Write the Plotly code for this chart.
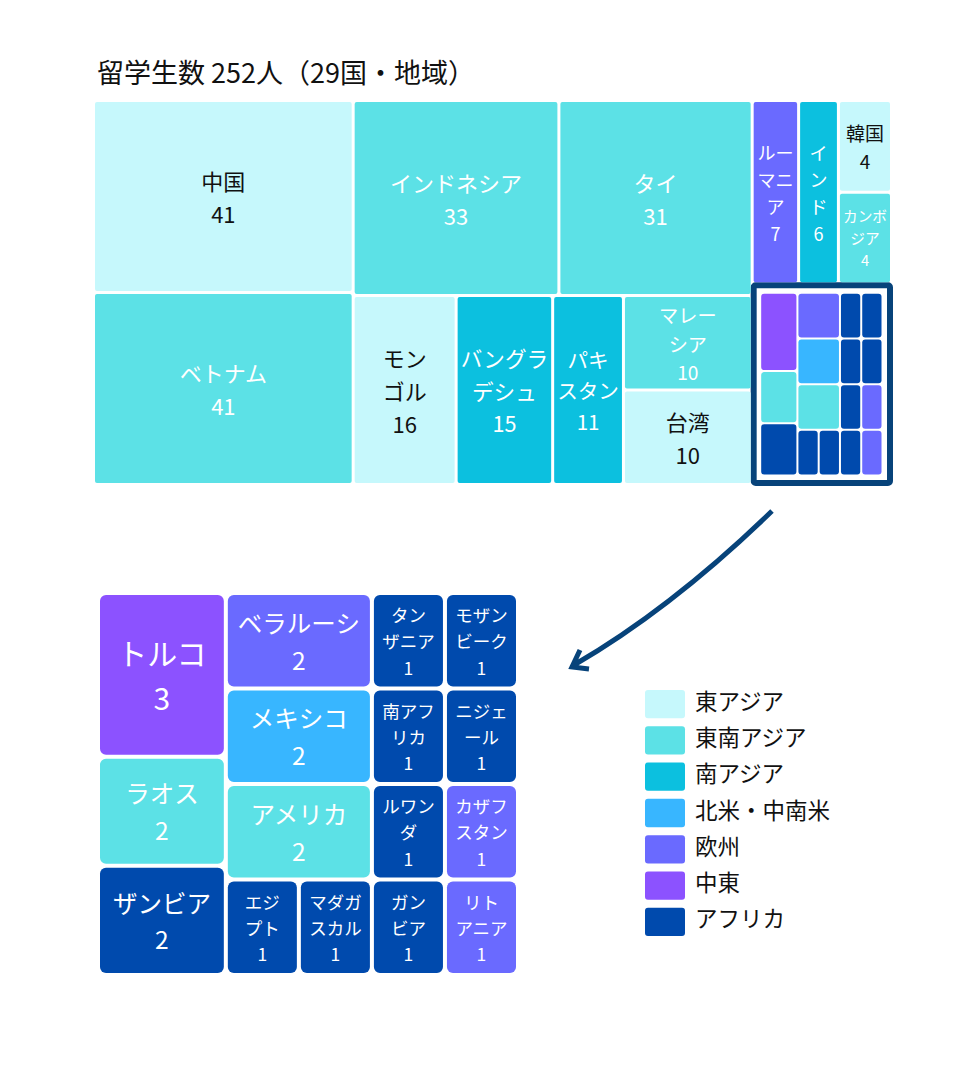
import plotly.graph_objects as go

FIG_W, FIG_H = 977, 1080
FONT = "Noto Sans CJK JP, Noto Sans, sans-serif"

# ---------------- data ----------------
region_names = ["東アジア", "東南アジア", "南アジア", "北米・中南米", "欧州", "中東", "アフリカ"]
region_colors = ["#c6f8fc", "#5ce1e6", "#0cc0df", "#38b6ff", "#6a6aff", "#8c52ff", "#004aad"]
region_text_colors = ["#111111", "#ffffff", "#ffffff", "#ffffff", "#ffffff", "#ffffff", "#ffffff"]

top_countries = ["中国", "ベトナム", "インドネシア", "タイ", "モンゴル", "バングラデシュ", "パキスタン",
                 "マレーシア", "台湾", "ルーマニア", "インド", "韓国", "カンボジア"]
top_values = [41, 41, 33, 31, 16, 15, 11, 10, 10, 7, 6, 4, 4]
top_regions = ["東アジア", "東南アジア", "東南アジア", "東南アジア", "東アジア", "南アジア", "南アジア",
               "東南アジア", "東アジア", "欧州", "南アジア", "東アジア", "東南アジア"]
top_display = ["中国", "ベトナム", "インドネシア", "タイ", "モン<br>ゴル", "バングラ<br>デシュ", "パキ<br>スタン",
               "マレー<br>シア", "台湾", "ルー<br>マニ<br>ア", "イ<br>ン<br>ド", "韓国", "カンボ<br>ジア"]

small_countries = ["トルコ", "ラオス", "ザンビア", "ベラルーシ", "メキシコ", "アメリカ", "エジプト", "マダガスカル",
                   "タンザニア", "南アフリカ", "ルワンダ", "ガンビア", "モザンビーク", "ニジェール", "カザフスタン", "リトアニア"]
small_values = [3, 2, 2, 2, 2, 2, 1, 1, 1, 1, 1, 1, 1, 1, 1, 1]
# colour group as drawn in the original picture
small_regions = ["中東", "東南アジア", "アフリカ", "欧州", "北米・中南米", "東南アジア", "アフリカ", "アフリカ",
                 "アフリカ", "アフリカ", "アフリカ", "アフリカ", "アフリカ", "アフリカ", "欧州", "欧州"]
small_display = ["トルコ", "ラオス", "ザンビア", "ベラルーシ", "メキシコ", "アメリカ", "エジ<br>プト", "マダガ<br>スカル",
                 "タン<br>ザニア", "南アフ<br>リカ", "ルワン<br>ダ", "ガン<br>ビア", "モザン<br>ビーク", "ニジェ<br>ール",
                 "カザフ<br>スタン", "リト<br>アニア"]

OTHER = "その他"

# nesting used for slice-dice tiling (lists are invisible groups)
top_tree = [
    ["中国", "ベトナム"],
    [["インドネシア", "タイ"], ["モンゴル", "バングラデシュ", "パキスタン", ["マレーシア", "台湾"]]],
    [["ルーマニア", "インド", ["韓国", "カンボジア"]], OTHER],
]
small_tree = [
    ["トルコ", "ラオス", "ザンビア"],
    ["ベラルーシ", "メキシコ", "アメリカ", ["エジプト", "マダガスカル"]],
    ["タンザニア", "南アフリカ", "ルワンダ", "ガンビア"],
    ["モザンビーク", "ニジェール", "カザフスタン", "リトアニア"],
]

total = sum(top_values) + sum(small_values)
n_countries = len(top_countries) + len(small_countries)

reg_col = dict(zip(region_names, region_colors))
reg_txt = dict(zip(region_names, region_text_colors))

NAVY = "#07437a"
TOP_SIZE = 22
TOP_SIZE_OVERRIDE = {"ルーマニア": 18, "インド": 18, "韓国": 19, "カンボジア": 15}
SMALL_SIZE = {3: 30, 2: 24.5, 1: 17.5}
LINE_GAP = 1.5  # line pitch in em


def px_x(v):
    return v / FIG_W


def px_y(v):
    return 1 - v / FIG_H


def cell_text(disp, value, fs, gap):
    lines = disp.split("<br>") + [str(value)]
    base = fs * gap / 2.6
    txt = "<br><br>".join(f"<span style='font-size:{fs}px'>{ln}</span>" for ln in lines)
    return txt, base


def build(tree, info, show_text, size_of):
    out = dict(ids=[], parents=[], values=[], text=[], colors=[], fcol=[], fsize=[], lw=[], lc=[])

    def add(i, p, v, t, c, fc, fs, lw, lc):
        out["ids"].append(i); out["parents"].append(p); out["values"].append(v)
        out["text"].append(t); out["colors"].append(c); out["fcol"].append(fc)
        out["fsize"].append(fs); out["lw"].append(lw); out["lc"].append(lc)

    def walk(node, parent, path):
        if isinstance(node, list):
            add(path, parent, 0, "", "rgba(0,0,0,0)", "#fff", 10, 0, "rgba(0,0,0,0)")
            for k, ch in enumerate(node):
                walk(ch, path, f"{path}/{k}")
        else:
            value, region, disp = info[node]
            if region is None:
                add(node, parent, value, "", "#ffffff", "#fff", 10, 6, NAVY)
            elif show_text:
                fs = size_of(node, value)
                t, base = cell_text(disp, value, fs, LINE_GAP)
                add(node, parent, value, t, reg_col[region], reg_txt[region], base, 0, "rgba(0,0,0,0)")
            else:
                add(node, parent, value, "", reg_col[region], "#fff", 10, 0, "rgba(0,0,0,0)")

    walk(tree, "", "root")
    return out


top_info = {c: (v, r, d) for c, v, r, d in zip(top_countries, top_values, top_regions, top_display)}
top_info[OTHER] = (sum(small_values), None, "")
small_info = {c: (v, r, d) for c, v, r, d in zip(small_countries, small_values, small_regions, small_display)}


def treemap(nodes, domain, pad, radius):
    return go.Treemap(
        ids=nodes["ids"], labels=nodes["ids"], parents=nodes["parents"], values=nodes["values"],
        branchvalues="remainder", sort=False,
        tiling=dict(packing="slice-dice", pad=pad),
        marker=dict(colors=nodes["colors"], line=dict(width=nodes["lw"], color=nodes["lc"]),
                    pad=dict(t=0, l=0, r=0, b=0), cornerradius=radius),
        text=nodes["text"], texttemplate="%{text}", textposition="middle center",
        textfont=dict(family=FONT, size=nodes["fsize"], color=nodes["fcol"]),
        pathbar=dict(visible=False), hoverinfo="skip", domain=domain,
    )


fig = go.Figure()

# --- top treemap ---
TX0, TX1, TY0, TY1 = 95, 890, 102, 483
top_nodes = build(top_tree, top_info, True, lambda n, v: TOP_SIZE_OVERRIDE.get(n, TOP_SIZE))
fig.add_trace(treemap(top_nodes, dict(x=[px_x(TX0), px_x(TX1)], y=[px_y(TY1), px_y(TY0)]), 3, 2))


# --- inset: position of "その他" in the slice-dice layout ---
def tree_sum(n):
    if isinstance(n, list):
        return sum(tree_sum(c) for c in n)
    return top_info[n][0]


col_sums = [tree_sum(c) for c in top_tree]
rowD = tree_sum(top_tree[2][0])
other_v = top_info[OTHER][0]
ox0 = TX0 + (col_sums[0] + col_sums[1]) / total * (TX1 - TX0)
ox1 = TX1
oy0 = TY0 + rowD / (rowD + other_v) * (TY1 - TY0)
oy1 = TY1
ins = 8.5
small_nodes_inset = build(small_tree, small_info, False, None)
fig.add_trace(treemap(small_nodes_inset,
                      dict(x=[px_x(ox0 + ins + 1.5), px_x(ox1 - ins)], y=[px_y(oy1 - ins), px_y(oy0 + ins + 1.5)]),
                      2, 3))

# --- lower zoomed treemap ---
small_nodes = build(small_tree, small_info, True, lambda n, v: SMALL_SIZE[v])
fig.add_trace(treemap(small_nodes, dict(x=[px_x(100), px_x(516)], y=[px_y(973), px_y(595)]), 4, 6))

# --- legend (swatches + labels) ---
leg_y = list(range(len(region_names)))
fig.add_trace(go.Bar(y=leg_y, x=[40] * len(region_names), base=5, orientation="h", width=0.78,
                     marker=dict(color=region_colors, line=dict(width=0), cornerradius=3),
                     hoverinfo="skip", showlegend=False, xaxis="x", yaxis="y"))
fig.add_trace(go.Scatter(x=[55] * len(region_names), y=leg_y, mode="text", text=region_names,
                         textposition="middle right", textfont=dict(family=FONT, size=22.5, color="#111111"),
                         hoverinfo="skip", showlegend=False, xaxis="x", yaxis="y"))


# --- arrow (decoration) ---
def P(x, y):
    return f"{px_x(x):.5f},{px_y(y):.5f}"


arrow_path = (f"M {P(772, 511)} Q {P(672, 608)} {P(574, 665)} "
              f"M {P(580, 650)} L {P(572, 667)} L {P(589, 669)}")

fig.update_layout(
    width=FIG_W, height=FIG_H,
    margin=dict(l=0, r=0, t=0, b=0),
    paper_bgcolor="white", plot_bgcolor="white",
    font=dict(family=FONT, color="#111111"),
    showlegend=False,
    xaxis=dict(domain=[px_x(640), px_x(950)], range=[0, 310], visible=False, fixedrange=True),
    yaxis=dict(domain=[px_y(940), px_y(686)], range=[6.5, -0.5], visible=False, fixedrange=True),
    annotations=[dict(text=f"留学生数 {total}人（{n_countries}国・地域）", x=px_x(95), y=px_y(72),
                      xref="paper", yref="paper", xanchor="left", yanchor="middle", showarrow=False,
                      font=dict(family=FONT, size=27, color="#111111"))],
    shapes=[dict(type="path", path=arrow_path, xref="paper", yref="paper",
                 line=dict(color=NAVY, width=5))],
)

fig.write_html("out.html", config={"displayModeBar": False},
               post_script="document.body.style.margin='0';")
